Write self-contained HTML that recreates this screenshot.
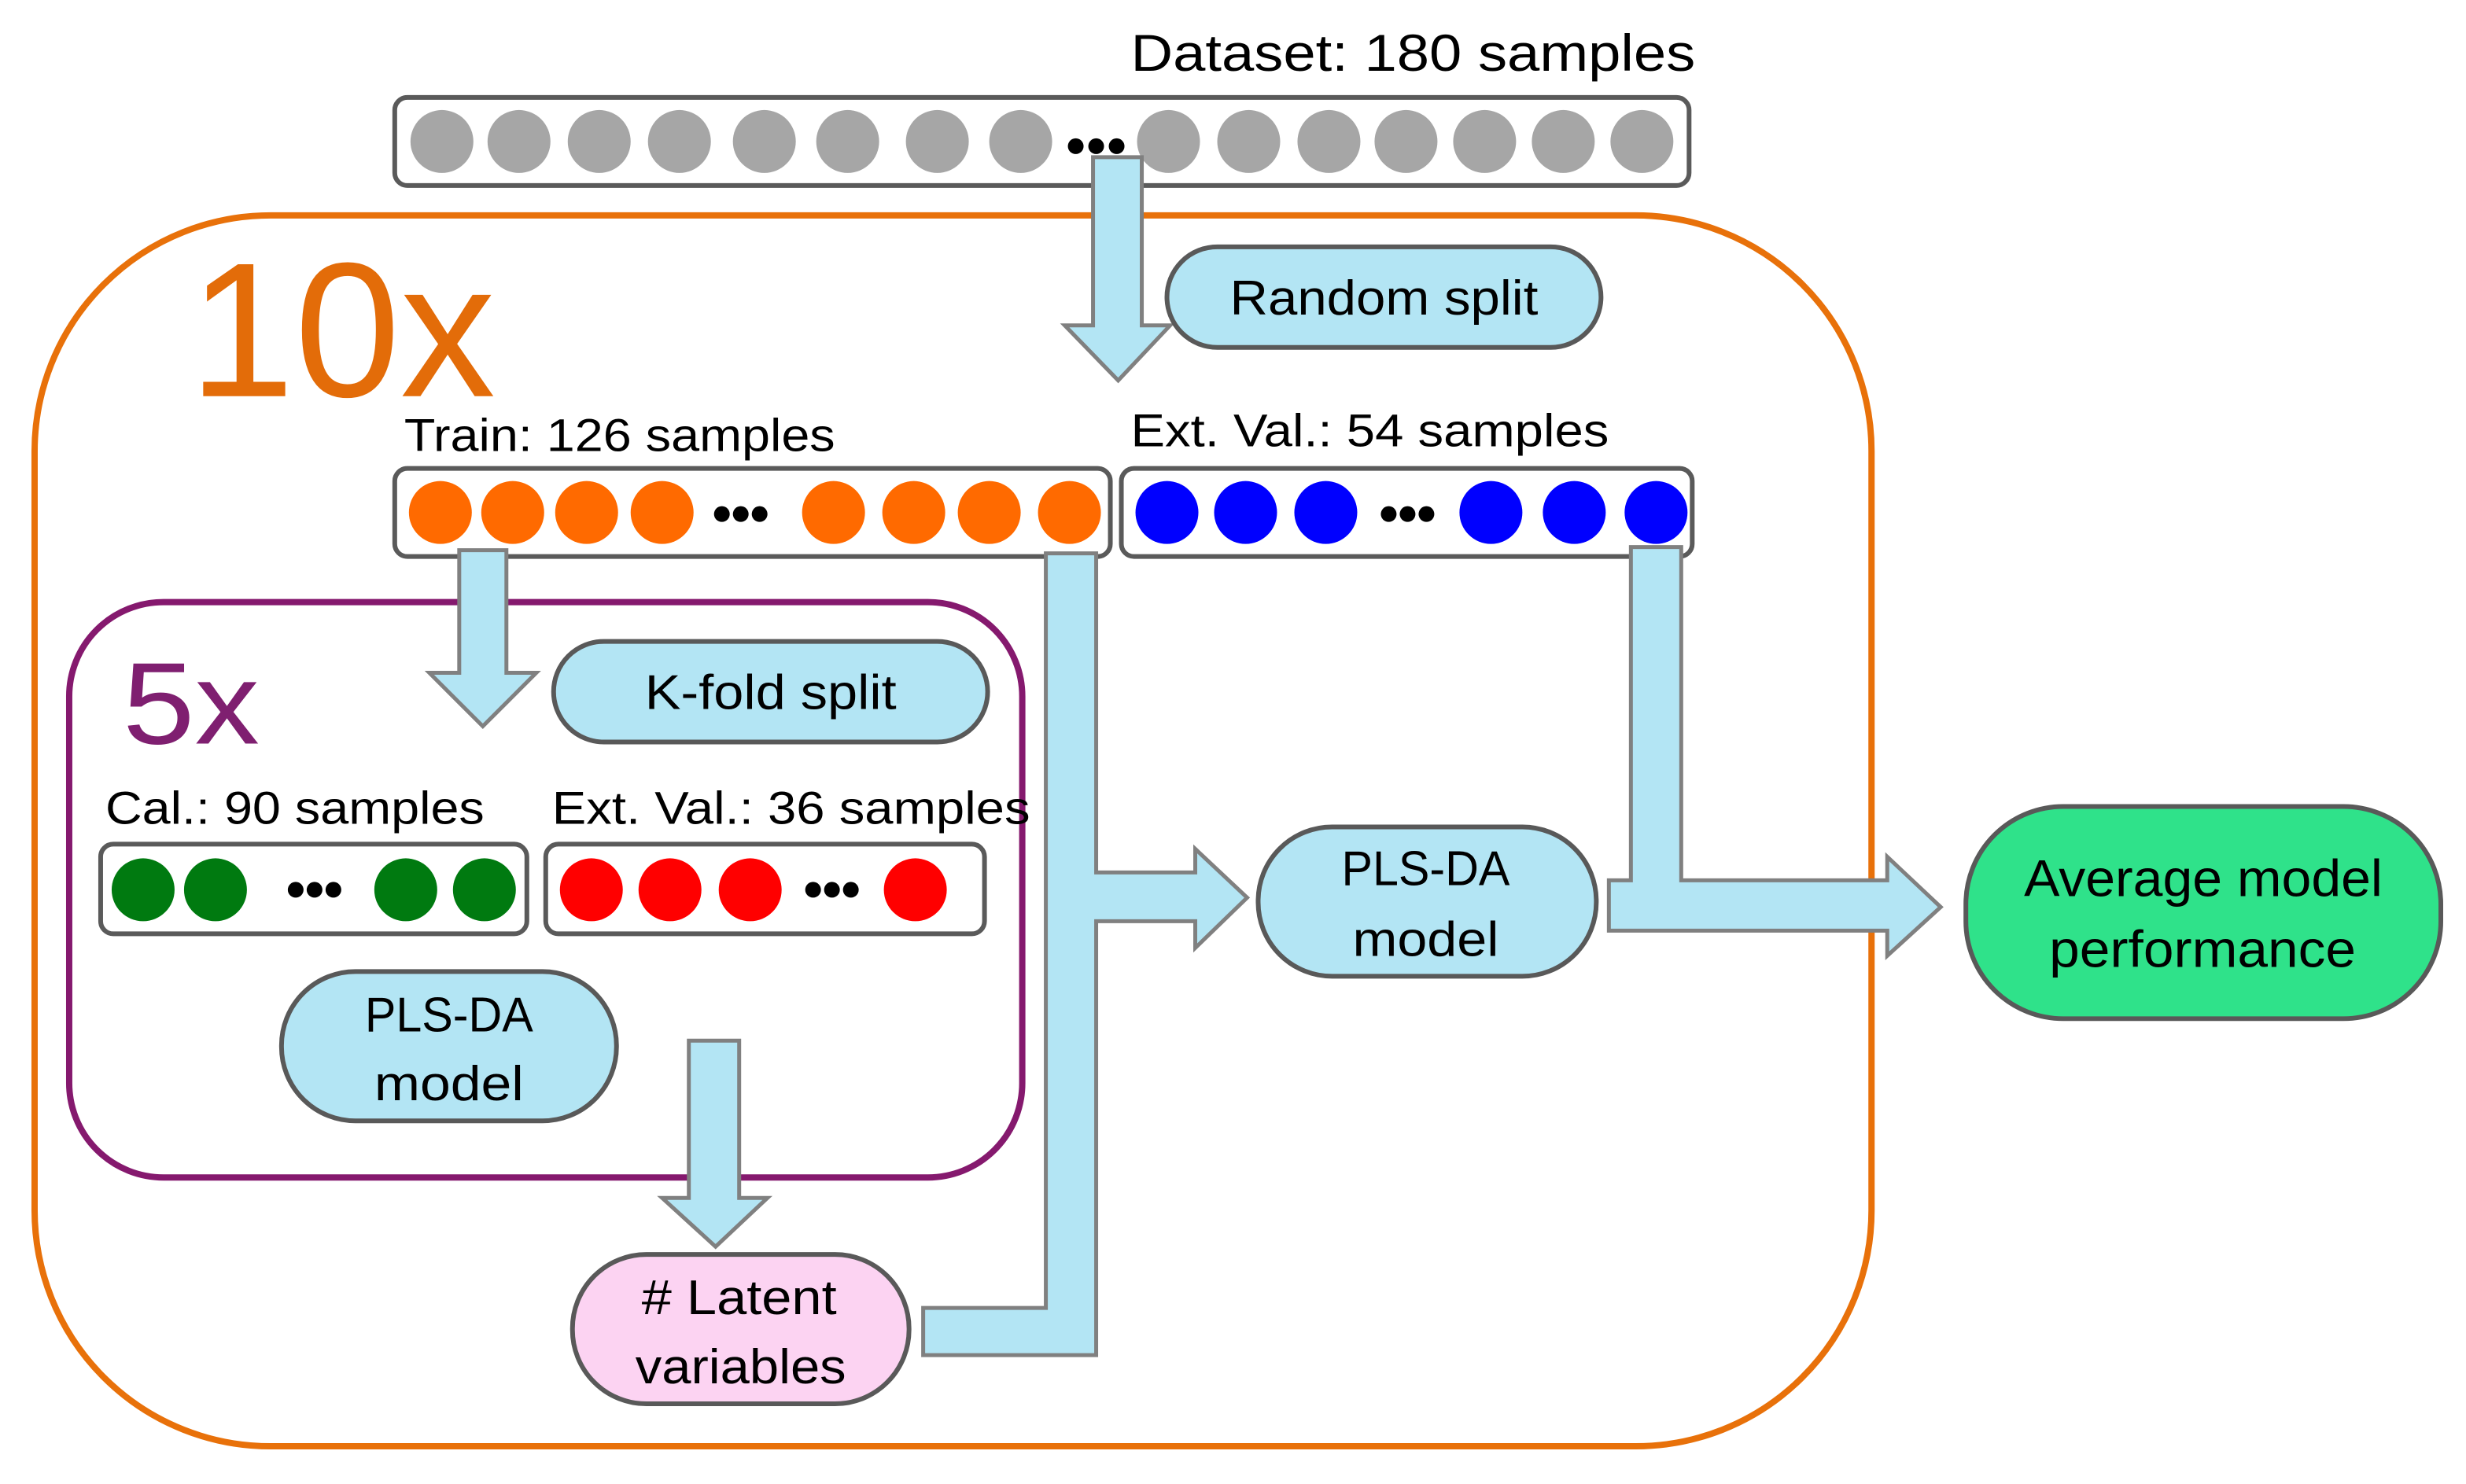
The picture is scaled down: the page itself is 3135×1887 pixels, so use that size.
<!DOCTYPE html>
<html><head><meta charset="utf-8"><style>html,body{margin:0;padding:0;background:#fff}svg{display:block}</style></head>
<body>
<svg width="3135" height="1887" viewBox="0 0 1568 944" preserveAspectRatio="none" xmlns="http://www.w3.org/2000/svg" font-family="Liberation Sans, sans-serif">
<rect x="0" y="0" width="1568" height="944" fill="#fff"/>
<rect x="22" y="137" width="1168" height="783" rx="150" ry="150" fill="none" stroke="#e8710a" stroke-width="4"/>
<text x="120" y="252" font-size="122" fill="#e36c09" textLength="195" lengthAdjust="spacingAndGlyphs">10x</text>
<text x="719" y="45" font-size="33" fill="#000" textLength="359" lengthAdjust="spacingAndGlyphs">Dataset: 180 samples</text>
<rect x="251" y="62" width="823" height="56" rx="8" fill="#fff" stroke="#5a5a5a" stroke-width="3"/>
<g fill="#a6a6a6">
<circle cx="281" cy="90" r="20"/><circle cx="330" cy="90" r="20"/><circle cx="381" cy="90" r="20"/><circle cx="432" cy="90" r="20"/><circle cx="486" cy="90" r="20"/><circle cx="539" cy="90" r="20"/><circle cx="596" cy="90" r="20"/><circle cx="649" cy="90" r="20"/>
<circle cx="743" cy="90" r="20"/><circle cx="794" cy="90" r="20"/><circle cx="845" cy="90" r="20"/><circle cx="894" cy="90" r="20"/><circle cx="944" cy="90" r="20"/><circle cx="994" cy="90" r="20"/><circle cx="1044" cy="90" r="20"/>
</g>
<g fill="#000"><circle cx="684" cy="93" r="5"/><circle cx="697" cy="93" r="5"/><circle cx="710" cy="93" r="5"/></g>
<polygon points="695,100 726,100 726,207 744,207 711,242 677,207 695,207" fill="#b3e5f4" stroke="#808080" stroke-width="2.5"/>
<rect x="742" y="157" width="276" height="64" rx="32" fill="#b3e5f4" stroke="#595959" stroke-width="3"/>
<text x="782" y="200" font-size="31" textLength="196" lengthAdjust="spacingAndGlyphs">Random split</text>
<text x="257" y="287" font-size="29" textLength="274" lengthAdjust="spacingAndGlyphs">Train: 126 samples</text>
<rect x="251" y="298" width="455" height="56" rx="8" fill="#fff" stroke="#5a5a5a" stroke-width="3"/>
<g fill="#ff6a00">
<circle cx="280" cy="326" r="20"/><circle cx="326" cy="326" r="20"/><circle cx="373" cy="326" r="20"/><circle cx="421" cy="326" r="20"/>
<circle cx="530" cy="326" r="20"/><circle cx="581" cy="326" r="20"/><circle cx="629" cy="326" r="20"/><circle cx="680" cy="326" r="20"/>
</g>
<g fill="#000"><circle cx="459" cy="327" r="5"/><circle cx="471" cy="327" r="5"/><circle cx="483" cy="327" r="5"/></g>
<text x="719" y="284" font-size="29" textLength="304" lengthAdjust="spacingAndGlyphs">Ext. Val.: 54 samples</text>
<rect x="713" y="298" width="363" height="56" rx="8" fill="#fff" stroke="#5a5a5a" stroke-width="3"/>
<g fill="#0000ff">
<circle cx="742" cy="326" r="20"/><circle cx="792" cy="326" r="20"/><circle cx="843" cy="326" r="20"/>
<circle cx="948" cy="326" r="20"/><circle cx="1001" cy="326" r="20"/><circle cx="1053" cy="326" r="20"/>
</g>
<g fill="#000"><circle cx="883" cy="327" r="5"/><circle cx="895" cy="327" r="5"/><circle cx="907" cy="327" r="5"/></g>
<rect x="44" y="383" width="606" height="366" rx="60" fill="none" stroke="#85196e" stroke-width="4"/>
<text x="78" y="473" font-size="74" fill="#7f1f70" textLength="87" lengthAdjust="spacingAndGlyphs">5x</text>
<polygon points="292,350 322,350 322,428 341,428 307,462 273,428 292,428" fill="#b3e5f4" stroke="#808080" stroke-width="2.5"/>
<rect x="352" y="408" width="276" height="64" rx="32" fill="#b3e5f4" stroke="#595959" stroke-width="3"/>
<text x="410" y="451" font-size="31" textLength="160" lengthAdjust="spacingAndGlyphs">K-fold split</text>
<text x="67" y="524" font-size="29" textLength="241" lengthAdjust="spacingAndGlyphs">Cal.: 90 samples</text>
<text x="351" y="524" font-size="29" textLength="304" lengthAdjust="spacingAndGlyphs">Ext. Val.: 36 samples</text>
<rect x="64" y="537" width="271" height="57" rx="8" fill="#fff" stroke="#5a5a5a" stroke-width="3"/>
<g fill="#007a10"><circle cx="91" cy="566" r="20"/><circle cx="137" cy="566" r="20"/><circle cx="258" cy="566" r="20"/><circle cx="308" cy="566" r="20"/></g>
<g fill="#000"><circle cx="188" cy="566" r="5"/><circle cx="200" cy="566" r="5"/><circle cx="212" cy="566" r="5"/></g>
<rect x="347" y="537" width="279" height="57" rx="8" fill="#fff" stroke="#5a5a5a" stroke-width="3"/>
<g fill="#ff0000"><circle cx="376" cy="566" r="20"/><circle cx="426" cy="566" r="20"/><circle cx="477" cy="566" r="20"/><circle cx="582" cy="566" r="20"/></g>
<g fill="#000"><circle cx="517" cy="566" r="5"/><circle cx="529" cy="566" r="5"/><circle cx="541" cy="566" r="5"/></g>
<rect x="179" y="618" width="213" height="95" rx="47" fill="#b3e5f4" stroke="#595959" stroke-width="3"/>
<text x="232" y="656" font-size="31" textLength="107" lengthAdjust="spacingAndGlyphs">PLS-DA</text>
<text x="238" y="700" font-size="31" textLength="95" lengthAdjust="spacingAndGlyphs">model</text>
<polygon points="438,662 470,662 470,762 488,762 455,793 421,762 438,762" fill="#b3e5f4" stroke="#808080" stroke-width="2.5"/>
<rect x="364" y="798" width="214" height="95" rx="47" fill="#fcd3f2" stroke="#595959" stroke-width="3"/>
<text x="408" y="836" font-size="31" textLength="124" lengthAdjust="spacingAndGlyphs"># Latent</text>
<text x="404" y="880" font-size="31" textLength="134" lengthAdjust="spacingAndGlyphs">variables</text>
<polygon points="587,832 665,832 665,352 697,352 697,555 760,555 760,540 793,571 760,603 760,586 697,586 697,862 587,862" fill="#b3e5f4" stroke="#808080" stroke-width="2.5"/>
<rect x="800" y="526" width="215" height="95" rx="47" fill="#b3e5f4" stroke="#595959" stroke-width="3"/>
<text x="853" y="563" font-size="31" textLength="107" lengthAdjust="spacingAndGlyphs">PLS-DA</text>
<text x="860" y="608" font-size="31" textLength="93" lengthAdjust="spacingAndGlyphs">model</text>
<polygon points="1037,348 1069,348 1069,560 1200,560 1200,545 1234,577 1200,608 1200,592 1023,592 1023,560 1037,560" fill="#b3e5f4" stroke="#808080" stroke-width="2.5"/>
<rect x="1250" y="513" width="302" height="135" rx="62" fill="#2fe28a" stroke="#595959" stroke-width="3"/>
<text x="1287" y="570" font-size="33" textLength="228" lengthAdjust="spacingAndGlyphs">Average model</text>
<text x="1303" y="615" font-size="33" textLength="195" lengthAdjust="spacingAndGlyphs">performance</text>
</svg>
</body></html>
